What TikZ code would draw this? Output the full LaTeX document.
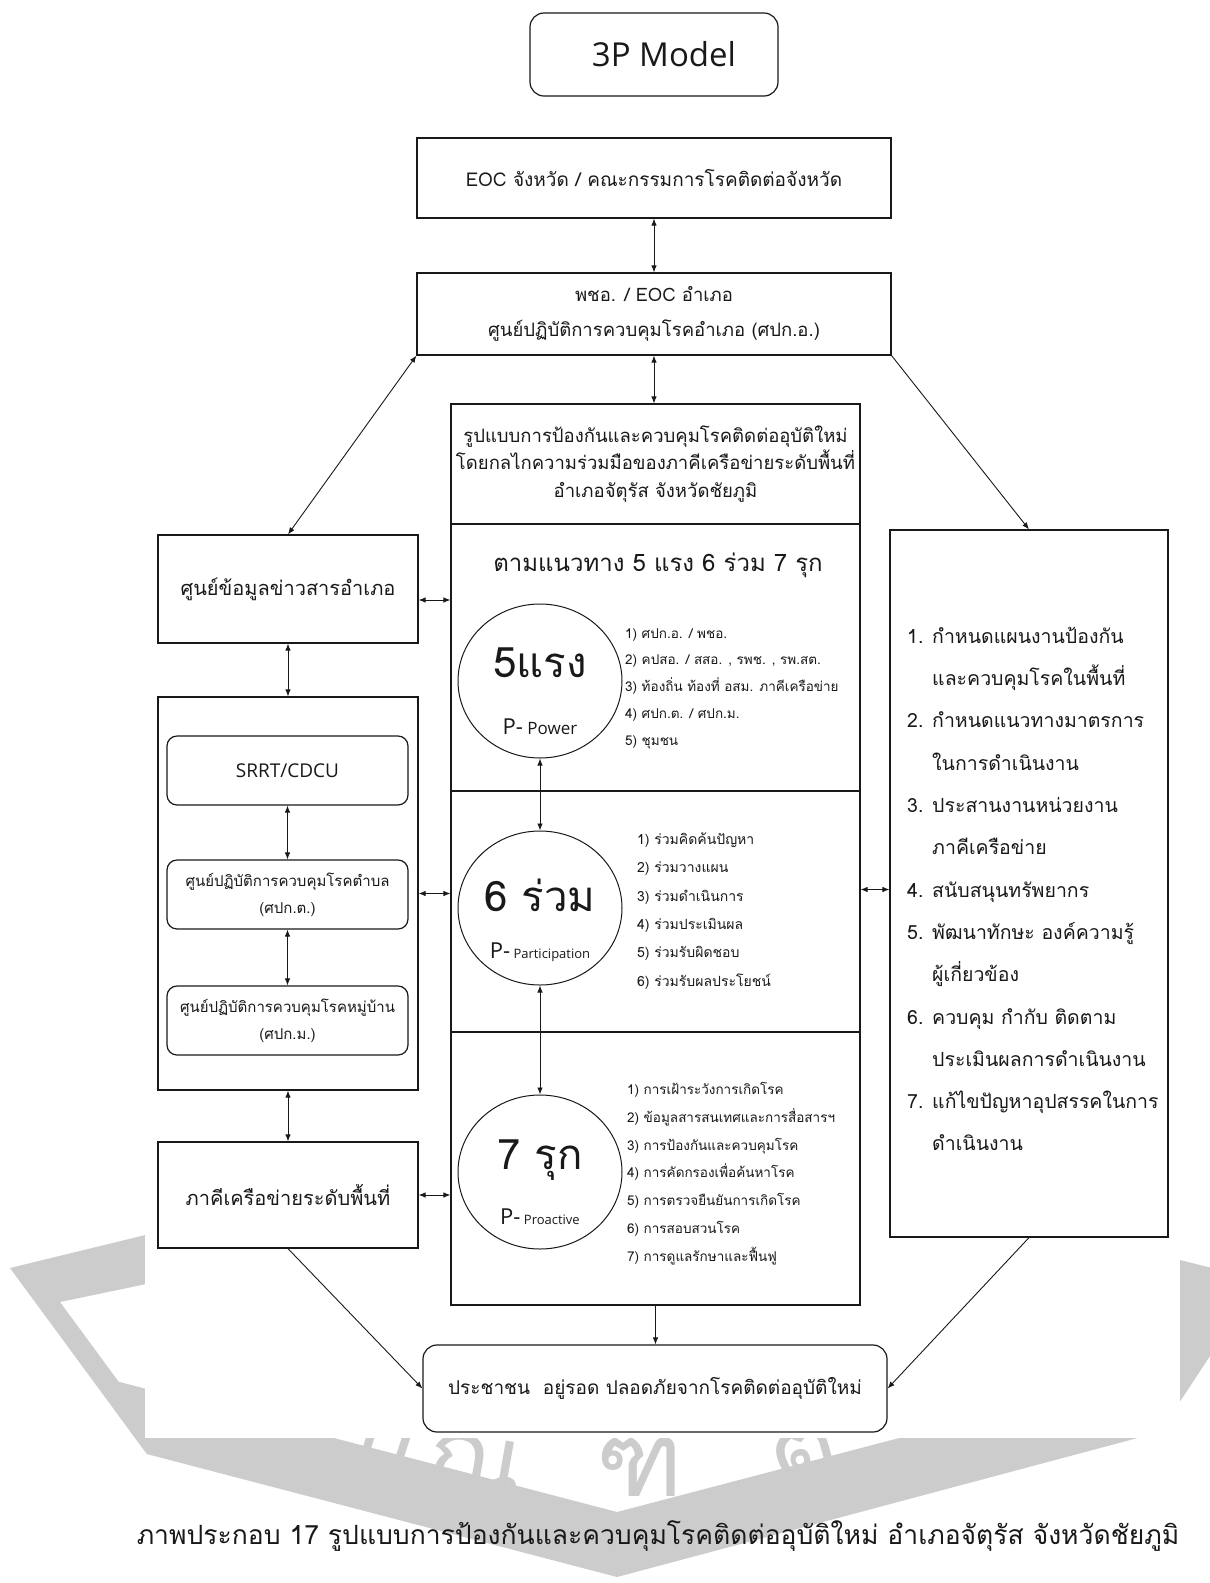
\documentclass[tikz,border=0pt]{standalone}
\usepackage{fontspec}
\setmainfont[Script=Thai]{Loma}
\newfontfamily\latinfont{Open Sans}
\usetikzlibrary{arrows.meta,shapes.geometric,calc}

\definecolor{wmgray}{RGB}{204,204,204}
\definecolor{ink}{RGB}{25,25,25}

\begin{document}
\begin{tikzpicture}[x=1pt,y=-1pt,
  >={Latex[length=7pt,width=5.5pt]},
  box/.style={draw=ink,line width=1.2pt,fill=white,inner sep=0pt,align=center,text=ink},
  rbox/.style={box,rounded corners=12pt},
  ring/.style={draw=ink,line width=1pt,ellipse,inner sep=0pt,minimum width=164pt,minimum height=154pt},
  link/.style={draw=ink,line width=0.9pt,->},
  dlink/.style={draw=ink,line width=0.9pt,<->},
  txt/.style={inner sep=0pt,text=ink,align=center},
  list/.style={inner sep=0pt,text=ink,align=left,anchor=west},
  wmtext/.style={inner sep=0pt,text=wmgray,anchor=base,font=\fontsize{105}{105}\selectfont},
  fs/.style 2 args={font=\fontsize{#1}{#2}\selectfont},
]
\path[use as bounding box] (0,0) rectangle (1210,1583);
\fill[white] (0,0) rectangle (1210,1583);

% watermark emblem behind the chart
\fill[wmgray] (170,1229) -- (10,1268) -- (146.8,1454) -- (617,1577) -- (1160,1432)
  -- (1260,1280) -- (1100,1240) -- (1095,1285) -- (1150,1320) -- (1109,1383)
  -- (617,1512) -- (118.6,1381.7) -- (60,1302) -- (175,1278) -- cycle;
\node[wmtext,rotate=-18] (wm1) at (372,1474) {\smash{บั}};
\node[wmtext,rotate=-10] (wm2) at (470,1494) {\smash{ณ}};
\node[wmtext] (wm3) at (640,1496) {\smash{ฑิ}};
\node[wmtext,rotate=15] (wm4) at (812,1486) {\smash{ต}};
\fill[white] (145,0) rectangle (1180,1438);

% top of the hierarchy
\node[rbox,rounded corners=14pt,minimum width=248pt,minimum height=83pt,
      font=\latinfont\fontsize{33}{33}\selectfont] (title) at (654,54.5) {\hspace*{20pt}3P Model};
\node[box,minimum width=474pt,minimum height=80pt,fs={19}{19}] (eoc) at (654,178)
  {EOC จังหวัด / คณะกรรมการโรคติดต่อจังหวัด};
\node[box,minimum width=474pt,minimum height=82pt,fs={18.5}{35}] (pcho) at (654,314)
  {พชอ. / EOC อำเภอ\\ศูนย์ปฏิบัติการควบคุมโรคอำเภอ (ศปก.อ.)};

% central column
\node[box,minimum width=409pt,minimum height=120pt,fs={18.5}{27.5}] (model) at (655.5,464)
  {รูปแบบการป้องกันและควบคุมโรคติดต่ออุบัติใหม่\\โดยกลไกความร่วมมือของภาคีเครือข่ายระดับพื้นที่\\อำเภอจัตุรัส จังหวัดชัยภูมิ};
\node[box,minimum width=409pt,minimum height=267pt] (sec5) at (655.5,657.5) {};
\node[box,minimum width=409pt,minimum height=241pt] (sec6) at (655.5,911.5) {};
\node[box,minimum width=409pt,minimum height=273pt] (sec7) at (655.5,1168.5) {};
\node[txt,fs={24}{24}] (head) at (658,565) {ตามแนวทาง 5 แรง 6 ร่วม 7 รุก};

\node[ring] (c5) at (540,681) {};
\node[ring] (c6) at (540,908) {};
\node[ring] (c7) at (540,1172) {};
\node[txt,fs={42}{42}] (c5a) at (540,663) {5แรง};
\node[txt] (c5b) at (540,727) {\latinfont\fontsize{22}{22}\selectfont P-\fontsize{17}{17}\selectfont\ Power};
\node[txt,fs={42}{42}] (c6a) at (540,895) {6 ร่วม};
\node[txt] (c6b) at (540,952) {\latinfont\fontsize{22}{22}\selectfont P-\fontsize{13}{13}\selectfont\ Participation};
\node[txt,fs={42}{42}] (c7a) at (540,1160) {7 รุก};
\node[txt] (c7b) at (540,1217) {\latinfont\fontsize{22}{22}\selectfont P-\fontsize{13}{13}\selectfont\ Proactive};

\node[list,fs={13.5}{26.75}] (l5) at (625,688.5)
  {1) ศปก.อ. / พชอ.\\2) คปสอ. / สสอ. , รพช. , รพ.สต.\\3) ท้องถิ่น ท้องที่ อสม. ภาคีเครือข่าย\\4) ศปก.ต. / ศปก.ม.\\5) ชุมชน};
\node[list,fs={14}{28.4}] (l6) at (637,911)
  {1) ร่วมคิดค้นปัญหา\\2) ร่วมวางแผน\\3) ร่วมดำเนินการ\\4) ร่วมประเมินผล\\5) ร่วมรับผิดชอบ\\6) ร่วมรับผลประโยชน์};
\node[list,fs={13.5}{27.8}] (l7) at (627,1173.5)
  {1) การเฝ้าระวังการเกิดโรค\\2) ข้อมูลสารสนเทศและการสื่อสารฯ\\3) การป้องกันและควบคุมโรค\\4) การคัดกรองเพื่อค้นหาโรค\\5) การตรวจยืนยันการเกิดโรค\\6) การสอบสวนโรค\\7) การดูแลรักษาและฟื้นฟู};

% left column
\node[box,minimum width=260pt,minimum height=108pt,fs={20}{20}] (info) at (288,589) {ศูนย์ข้อมูลข่าวสารอำเภอ};
\node[box,minimum width=260pt,minimum height=393pt] (leftbig) at (288,893.5) {};
\node[rbox,rounded corners=10pt,minimum width=241pt,minimum height=69pt,
      font=\latinfont\fontsize{19}{19}\selectfont] (srrt) at (287.5,770.5) {SRRT/CDCU};
\node[rbox,rounded corners=10pt,minimum width=241pt,minimum height=69pt,fs={15}{27}] (tambon) at (287.5,894.5)
  {ศูนย์ปฏิบัติการควบคุมโรคตำบล\\(ศปก.ต.)};
\node[rbox,rounded corners=10pt,minimum width=241pt,minimum height=69pt,fs={15}{27}] (muban) at (287.5,1020.5)
  {ศูนย์ปฏิบัติการควบคุมโรคหมู่บ้าน\\(ศปก.ม.)};
\node[box,minimum width=260pt,minimum height=106pt,fs={20}{20}] (pakee) at (288,1195) {ภาคีเครือข่ายระดับพื้นที่};

% right column
\node[box,minimum width=278pt,minimum height=707pt] (right) at (1029,883.5) {};
\node[list,fs={19.5}{42.3}] (rlist) at (907,889)
  {1. กำหนดแผนงานป้องกัน\\\hspace*{25pt}และควบคุมโรคในพื้นที่\\2. กำหนดแนวทางมาตรการ\\\hspace*{25pt}ในการดำเนินงาน\\3. ประสานงานหน่วยงาน\\\hspace*{25pt}ภาคีเครือข่าย\\4. สนับสนุนทรัพยากร\\5. พัฒนาทักษะ องค์ความรู้\\\hspace*{25pt}ผู้เกี่ยวข้อง\\6. ควบคุม กำกับ ติดตาม\\\hspace*{25pt}ประเมินผลการดำเนินงาน\\7. แก้ไขปัญหาอุปสรรคในการ\\\hspace*{25pt}ดำเนินงาน};

% outcome
\node[rbox,rounded corners=14pt,minimum width=464pt,minimum height=87pt,fs={19}{19}] (people) at (655,1388.5)
  {ประชาชน\ \ อยู่รอด ปลอดภัยจากโรคติดต่ออุบัติใหม่};

% caption
\node[txt,fs={26.5}{26.5}] (caption) at (658,1536)
  {ภาพประกอบ 17 รูปแบบการป้องกันและควบคุมโรคติดต่ออุบัติใหม่ อำเภอจัตุรัส จังหวัดชัยภูมิ};

% connectors
\coordinate (ij) at ([yshift=-11pt]info.east);
\coordinate (rj) at ([yshift=-6pt]right.west);
\draw[dlink] (eoc.south) -- (pcho.north);
\draw[dlink] (pcho.south) -- (pcho.south |- model.north);
\draw[dlink] (pcho.south west) -- (info.north);
\draw[link] (pcho.south east) -- (right.north);
\draw[dlink] (ij) -- (ij -| sec5.west);
\draw[dlink] (info.south) -- (leftbig.north);
\draw[dlink] (srrt.south) -- (tambon.north);
\draw[dlink] (tambon.south) -- (muban.north);
\draw[dlink] (leftbig.east) -- (leftbig.east -| sec6.west);
\draw[dlink] (rj) -- (rj -| sec6.east);
\draw[dlink] (leftbig.south) -- (pakee.north);
\draw[dlink] (pakee.east) -- (pakee.east -| sec7.west);
\draw[dlink] (c5.south) -- (c6.north);
\draw[dlink] (c6.south) -- (c7.north);
\draw[link] (sec7.south) -- (sec7.south |- people.north);
\draw[link] (pakee.south) -- (people.west);
\draw[link] (right.south) -- (people.east);
\end{tikzpicture}
\end{document}
